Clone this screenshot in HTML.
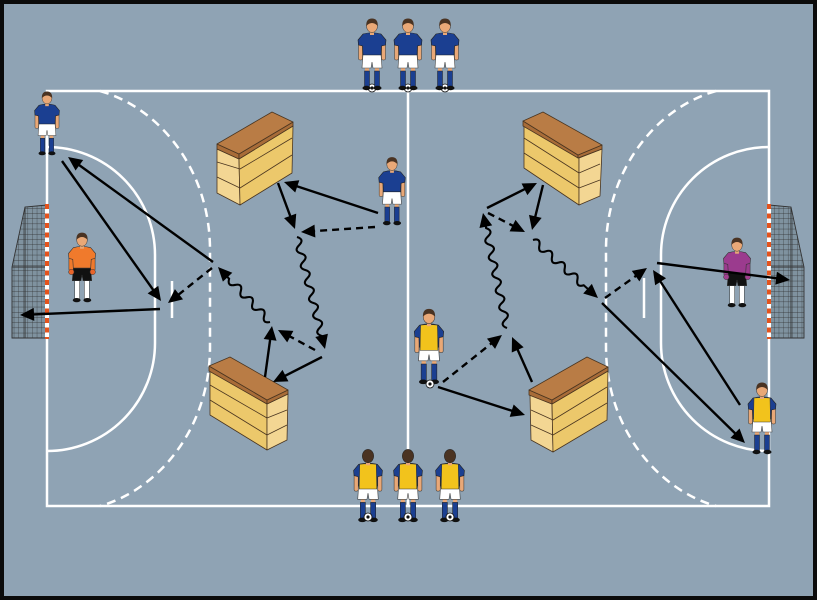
<!DOCTYPE html>
<html><head><meta charset="utf-8"><style>html,body{margin:0;padding:0;background:#000}svg{display:block}</style></head>
<body>
<svg width="817" height="600" viewBox="0 0 817 600" xmlns="http://www.w3.org/2000/svg">
<defs>
<pattern id="mesh" width="4.6" height="5.2" patternUnits="userSpaceOnUse"><path d="M0,0 H4.6 M0,0 V5.2" stroke="#2b2b2b" stroke-width=".6" fill="none"/></pattern>
<g id="goal">
  <polygon points="47,205 25,207 12,267 12,338 47,338" fill="#7f929f"/>
  <polygon points="47,205 25,207 12,267 12,338 47,338" fill="url(#mesh)"/>
  <path d="M47,205 L25,207 L12,267 L12,338 L47,338 M12,267 L47,267 M25,207 L25,338" stroke="#333" stroke-width=".9" fill="none"/>
  <line x1="47" y1="204" x2="47" y2="339" stroke="#fff" stroke-width="4"/>
  <line x1="47" y1="204" x2="47" y2="339" stroke="#e4531d" stroke-width="4" stroke-dasharray="5 4.5"/>
</g>
<g id="ball"><circle r="4" fill="#fff" stroke="#111" stroke-width=".8"/><circle r="1.6" fill="#111"/></g>
<g id="legs">
  <rect x="-7" y="-25" width="4" height="6" fill="#e9a877"/>
  <rect x="3" y="-25" width="4" height="6" fill="#e9a877"/>
  <rect x="-7.5" y="-20" width="5" height="16" fill="#1b3f91" stroke="#222" stroke-width=".5"/>
  <rect x="2.5" y="-20" width="5" height="16" fill="#1b3f91" stroke="#222" stroke-width=".5"/>
  <ellipse cx="-5.5" cy="-3" rx="4" ry="2.2" fill="#111"/>
  <ellipse cx="5.5" cy="-3" rx="4" ry="2.2" fill="#111"/>
  <path d="M-9,-37 L9,-37 L10,-23 L1,-23 L0,-29 L-1,-23 L-10,-23Z" fill="#fff" stroke="#444" stroke-width=".6"/>
</g>
<g id="arms">
  <rect x="-13.5" y="-48" width="4" height="17" rx="1.5" fill="#e9a877" stroke="#333" stroke-width=".5"/>
  <rect x="9.5" y="-48" width="4" height="17" rx="1.5" fill="#e9a877" stroke="#333" stroke-width=".5"/>
</g>
<path id="shirt" d="M-9,-57 Q0,-59.5 9,-57 L14,-51 L13.5,-46 L9.5,-45 L9,-36 L-9,-36 L-9.5,-45 L-13.5,-46 L-14,-51Z"/>
<g id="head">
  <rect x="-2" y="-60" width="4" height="4" fill="#e9a877"/>
  <ellipse cx="0" cy="-65" rx="5.5" ry="6.5" fill="#e9a877" stroke="#333" stroke-width=".5"/>
  <path d="M-5.8,-65 Q-6,-72.5 0,-72.5 Q6,-72.5 5.8,-65 Q3,-68 0,-68 Q-3,-68 -5.8,-65Z" fill="#4a3322"/>
</g>
<g id="headback">
  <rect x="-2" y="-60" width="4" height="4" fill="#e9a877"/>
  <ellipse cx="0" cy="-65" rx="5.5" ry="6.5" fill="#4a3322" stroke="#222" stroke-width=".5"/>
</g>
<g id="pb">
  <use href="#arms"/><use href="#legs"/>
  <use href="#shirt" fill="#1b3f91" stroke="#222" stroke-width=".6"/>
  <use href="#head"/>
</g>
<g id="py">
  <use href="#arms"/><use href="#legs"/>
  <use href="#shirt" fill="#1b3f91" stroke="#222" stroke-width=".6"/>
  <path d="M-8,-57 Q0,-58 8,-57 L8.5,-33 L-8.5,-33Z" fill="#f2c31c" stroke="#333" stroke-width=".5"/>
  <use href="#head"/>
</g>
<g id="pyb">
  <use href="#arms"/><use href="#legs"/>
  <use href="#shirt" fill="#1b3f91" stroke="#222" stroke-width=".6"/>
  <path d="M-8,-57 Q0,-58 8,-57 L8.5,-33 L-8.5,-33Z" fill="#f2c31c" stroke="#333" stroke-width=".5"/>
  <use href="#headback"/>
</g>
<g id="gklegs">
  <rect x="-7.5" y="-24" width="5" height="20" fill="#fff" stroke="#333" stroke-width=".5"/>
  <rect x="2.5" y="-24" width="5" height="20" fill="#fff" stroke="#333" stroke-width=".5"/>
  <ellipse cx="-5.5" cy="-3" rx="4" ry="2.2" fill="#111"/>
  <ellipse cx="5.5" cy="-3" rx="4" ry="2.2" fill="#111"/>
  <path d="M-9,-37 L9,-37 L10,-23 L1,-23 L0,-29 L-1,-23 L-10,-23Z" fill="#111" stroke="#333" stroke-width=".6"/>
</g>
<g id="po">
  <use href="#gklegs"/>
  <rect x="-13.5" y="-50" width="4.5" height="17" rx="1.5" fill="#f07a2c" stroke="#333" stroke-width=".5"/>
  <rect x="9" y="-50" width="4.5" height="17" rx="1.5" fill="#f07a2c" stroke="#333" stroke-width=".5"/>
  <circle cx="-11" cy="-32" r="2.8" fill="#e8642a" stroke="#333" stroke-width=".5"/>
  <circle cx="11" cy="-32" r="2.8" fill="#e8642a" stroke="#333" stroke-width=".5"/>
  <use href="#shirt" fill="#f07a2c" stroke="#333" stroke-width=".6"/>
  <use href="#head"/>
</g>
<g id="pp">
  <use href="#gklegs"/>
  <rect x="-13.5" y="-50" width="4.5" height="17" rx="1.5" fill="#9b3b8e" stroke="#333" stroke-width=".5"/>
  <rect x="9" y="-50" width="4.5" height="17" rx="1.5" fill="#9b3b8e" stroke="#333" stroke-width=".5"/>
  <circle cx="-11" cy="-32" r="2.8" fill="#a0408f" stroke="#333" stroke-width=".5"/>
  <circle cx="11" cy="-32" r="2.8" fill="#a0408f" stroke="#333" stroke-width=".5"/>
  <use href="#shirt" fill="#9b3b8e" stroke="#333" stroke-width=".6"/>
  <use href="#head"/>
</g>
</defs>

<rect x="0" y="0" width="817" height="600" fill="#0b0b0b"/>
<rect x="4" y="4" width="809" height="592" fill="#8fa3b4"/>

<!-- goals -->
<use href="#goal"/>
<use href="#goal" transform="translate(816,0) scale(-1,1)"/>

<!-- court -->
<g stroke="#fff" stroke-width="2.5" fill="none">
  <rect x="47" y="91" width="722" height="415"/>
  <line x1="408" y1="91" x2="408" y2="506"/>
  <path d="M47,147 A108,108 0 0 1 155,255 L155,343 A108,108 0 0 1 47,451"/>
  <path d="M769,147 A108,108 0 0 0 661,255 L661,343 A108,108 0 0 0 769,451"/>
  <path d="M100,91 C160,108 210,170 210,250 L210,347 C210,427 160,489 100,506" stroke-dasharray="9 6"/>
  <path d="M716,91 C656,108 606,170 606,250 L606,347 C606,427 656,489 716,506" stroke-dasharray="9 6"/>
  <line x1="172" y1="281" x2="172" y2="318"/>
  <line x1="644" y1="278" x2="644" y2="318"/>
</g>
<!-- redraw goal posts over court line -->
<line x1="47" y1="204" x2="47" y2="339" stroke="#fff" stroke-width="4"/>
<line x1="47" y1="204" x2="47" y2="339" stroke="#e4531d" stroke-width="4" stroke-dasharray="5 4.5"/>
<line x1="769" y1="204" x2="769" y2="339" stroke="#fff" stroke-width="4"/>
<line x1="769" y1="204" x2="769" y2="339" stroke="#e4531d" stroke-width="4" stroke-dasharray="5 4.5"/>

<!-- boxes -->
<g stroke="#4a3520" stroke-width=".8" stroke-linejoin="round">
  <!-- Box A -->
  <polygon points="217,149 239,159 240,205 217,193" fill="#f3d693"/>
  <polygon points="239,159 293,126 292,173 240,205" fill="#ecc86b"/>
  <polyline points="217,162 240,169 292,138" fill="none"/>
  <polyline points="217,177 240,188 292,155" fill="none"/>
  <polygon points="217,144 239,154 239,159 217,149" fill="#a86c38"/>
  <polygon points="239,154 293,122 293,126 239,159" fill="#a86c38"/>
  <polygon points="217,144 272,112 293,122 239,154" fill="#b97c45"/>
  <!-- Box B -->
  <polygon points="524,126 579,158 579,205 524,168" fill="#ecc86b"/>
  <polygon points="579,158 602,149 600,196 579,205" fill="#f3d693"/>
  <polyline points="524,138 579,173 600,164" fill="none"/>
  <polyline points="524,153 579,188 600,180" fill="none"/>
  <polygon points="523,121 578,155 578,158 523,126" fill="#a86c38"/>
  <polygon points="578,155 602,145 602,149 578,158" fill="#a86c38"/>
  <polygon points="523,121 543,112 602,145 578,155" fill="#b97c45"/>
  <!-- Box C -->
  <polygon points="210,371 267,404 267,450 210,415" fill="#ecc86b"/>
  <polygon points="267,404 288,394 287,440 267,450" fill="#f3d693"/>
  <polyline points="210,385 267,418 287,410" fill="none"/>
  <polyline points="210,400 267,435 287,425" fill="none"/>
  <polygon points="209,366 267,400 267,404 209,371" fill="#a86c38"/>
  <polygon points="267,400 288,390 288,394 267,404" fill="#a86c38"/>
  <polygon points="209,366 230,357 288,390 267,400" fill="#b97c45"/>
  <!-- Box D -->
  <polygon points="530,395 552,404 553,452 531,440" fill="#f3d693"/>
  <polygon points="552,404 608,371 607,420 553,452" fill="#ecc86b"/>
  <polyline points="531,410 553,420 607,387" fill="none"/>
  <polyline points="531,425 553,435 607,403" fill="none"/>
  <polygon points="529,390 552,400 552,404 529,395" fill="#a86c38"/>
  <polygon points="552,400 608,367 608,371 552,404" fill="#a86c38"/>
  <polygon points="529,390 587,357 608,367 552,400" fill="#b97c45"/>
</g>

<!-- players -->
<use href="#ball" transform="translate(372,88)"/>
<use href="#ball" transform="translate(408,88)"/>
<use href="#ball" transform="translate(445,88)"/>
<use href="#pb" transform="translate(372,91)"/>
<use href="#pb" transform="translate(408,91)"/>
<use href="#pb" transform="translate(445,91)"/>

<use href="#pyb" transform="translate(368,523) scale(1.03)"/>
<use href="#pyb" transform="translate(408,523) scale(1.03)"/>
<use href="#pyb" transform="translate(450,523) scale(1.03)"/>
<use href="#ball" transform="translate(368,517)"/>
<use href="#ball" transform="translate(408,517)"/>
<use href="#ball" transform="translate(450,517)"/>

<use href="#pb" transform="translate(47,156) scale(0.89)"/>
<use href="#po" transform="translate(82,303) scale(0.97)"/>
<use href="#pb" transform="translate(392,226) scale(0.95)"/>
<use href="#py" transform="translate(429,385) scale(1.05)"/>
<use href="#ball" transform="translate(430,384)"/>
<use href="#pp" transform="translate(737,308) scale(0.97)"/>
<use href="#py" transform="translate(762,455) scale(1.0)"/>

<!-- arrows -->
<g fill="#000" stroke="#000" stroke-width="2.4">
  <g transform="translate(62,161) rotate(54.73)"><line x1="0" y1="0" x2="161.5" y2="0"/><polygon stroke="none" points="171.5,0 157.5,-6.5 157.5,6.5"/></g>
  <g transform="translate(213,262) rotate(-144.09)"><line x1="0" y1="0" x2="169" y2="0"/><polygon stroke="none" points="179,0 165,-6.5 165,6.5"/></g>
  <g transform="translate(212,268) rotate(141.5)"><line x1="0" y1="0" x2="46.2" y2="0" stroke-dasharray="7 5"/><polygon stroke="none" points="56.2,0 42.2,-6.5 42.2,6.5"/></g>
  <g transform="translate(160,309) rotate(177.55)"><line x1="0" y1="0" x2="130.1" y2="0"/><polygon stroke="none" points="140.1,0 126.1,-6.5 126.1,6.5"/></g>
  <g transform="translate(270,322) rotate(-133.4)"><path fill="none" stroke-width="2.1" d="M0,0 q4.25,-7 8.5,0 t8.5,0 t8.5,0 t8.5,0 t8.5,0 t8.5,0 t8.5,0 l3,0"/><polygon stroke="none" points="75.7,0 61.7,-6.5 61.7,6.5"/></g>
  <g transform="translate(378,213) rotate(-161.75)"><line x1="0" y1="0" x2="89" y2="0"/><polygon stroke="none" points="99,0 85,-6.5 85,6.5"/></g>
  <g transform="translate(375,227) rotate(176.13)"><line x1="0" y1="0" x2="64.2" y2="0" stroke-dasharray="7 5"/><polygon stroke="none" points="74.2,0 60.2,-6.5 60.2,6.5"/></g>
  <g transform="translate(278,183) rotate(69.7)"><line x1="0" y1="0" x2="39" y2="0"/><polygon stroke="none" points="49,0 35,-6.5 35,6.5"/></g>
  <g transform="translate(297,237) rotate(75.96)"><path fill="none" stroke-width="2.1" d="M0,0 q4.25,-7 8.5,0 t8.5,0 t8.5,0 t8.5,0 t8.5,0 t8.5,0 t8.5,0 t8.5,0 t8.5,0 t8.5,0 t8.5,0 t8.5,0 l1,0"/><polygon stroke="none" points="115.4,0 101.4,-6.5 101.4,6.5"/></g>
  <g transform="translate(322,357) rotate(152.97)"><line x1="0" y1="0" x2="45" y2="0"/><polygon stroke="none" points="55,0 41,-6.5 41,6.5"/></g>
  <g transform="translate(265,377) rotate(-82.18)"><line x1="0" y1="0" x2="41.5" y2="0"/><polygon stroke="none" points="51.5,0 37.5,-6.5 37.5,6.5"/></g>
  <g transform="translate(315,350) rotate(-151.6)"><line x1="0" y1="0" x2="32.1" y2="0" stroke-dasharray="7 5"/><polygon stroke="none" points="42.1,0 28.1,-6.5 28.1,6.5"/></g>
  <g transform="translate(438,387) rotate(17.84)"><line x1="0" y1="0" x2="81.4" y2="0"/><polygon stroke="none" points="91.4,0 77.4,-6.5 77.4,6.5"/></g>
  <g transform="translate(443,382) rotate(-38.55)"><line x1="0" y1="0" x2="65.4" y2="0" stroke-dasharray="7 5"/><polygon stroke="none" points="75.4,0 61.4,-6.5 61.4,6.5"/></g>
  <g transform="translate(532,382) rotate(-113.96)"><line x1="0" y1="0" x2="39.2" y2="0"/><polygon stroke="none" points="49.2,0 35.2,-6.5 35.2,6.5"/></g>
  <g transform="translate(507,328) rotate(-101.79)"><path fill="none" stroke-width="2.1" d="M0,0 q4.25,-7 8.5,0 t8.5,0 t8.5,0 t8.5,0 t8.5,0 t8.5,0 t8.5,0 t8.5,0 t8.5,0 t8.5,0 t8.5,0 t8.5,0 l3,0"/><polygon stroke="none" points="117.5,0 103.5,-6.5 103.5,6.5"/></g>
  <g transform="translate(487,208) rotate(-26.57)"><line x1="0" y1="0" x2="45.9" y2="0"/><polygon stroke="none" points="55.9,0 41.9,-6.5 41.9,6.5"/></g>
  <g transform="translate(543,185) rotate(103.74)"><line x1="0" y1="0" x2="36.3" y2="0"/><polygon stroke="none" points="46.3,0 32.3,-6.5 32.3,6.5"/></g>
  <g transform="translate(488,213) rotate(27.18)"><line x1="0" y1="0" x2="31.6" y2="0" stroke-dasharray="7 5"/><polygon stroke="none" points="41.6,0 27.6,-6.5 27.6,6.5"/></g>
  <g transform="translate(533,240) rotate(41.74)"><path fill="none" stroke-width="2.1" d="M0,0 q4.25,-7 8.5,0 t8.5,0 t8.5,0 t8.5,0 t8.5,0 t8.5,0 t8.5,0 t8.5,0 l6,0"/><polygon stroke="none" points="87.1,0 73.1,-6.5 73.1,6.5"/></g>
  <g transform="translate(605,298) rotate(-35.54)"><line x1="0" y1="0" x2="41.6" y2="0" stroke-dasharray="7 5"/><polygon stroke="none" points="51.6,0 37.6,-6.5 37.6,6.5"/></g>
  <g transform="translate(602,303) rotate(44.39)"><line x1="0" y1="0" x2="190.1" y2="0"/><polygon stroke="none" points="200.1,0 186.1,-6.5 186.1,6.5"/></g>
  <g transform="translate(740,405) rotate(-122.8)"><line x1="0" y1="0" x2="150.6" y2="0"/><polygon stroke="none" points="160.6,0 146.6,-6.5 146.6,6.5"/></g>
  <g transform="translate(657,263) rotate(7.28)"><line x1="0" y1="0" x2="124.1" y2="0"/><polygon stroke="none" points="134.1,0 120.1,-6.5 120.1,6.5"/></g>
</g>
</svg>
</body></html>
